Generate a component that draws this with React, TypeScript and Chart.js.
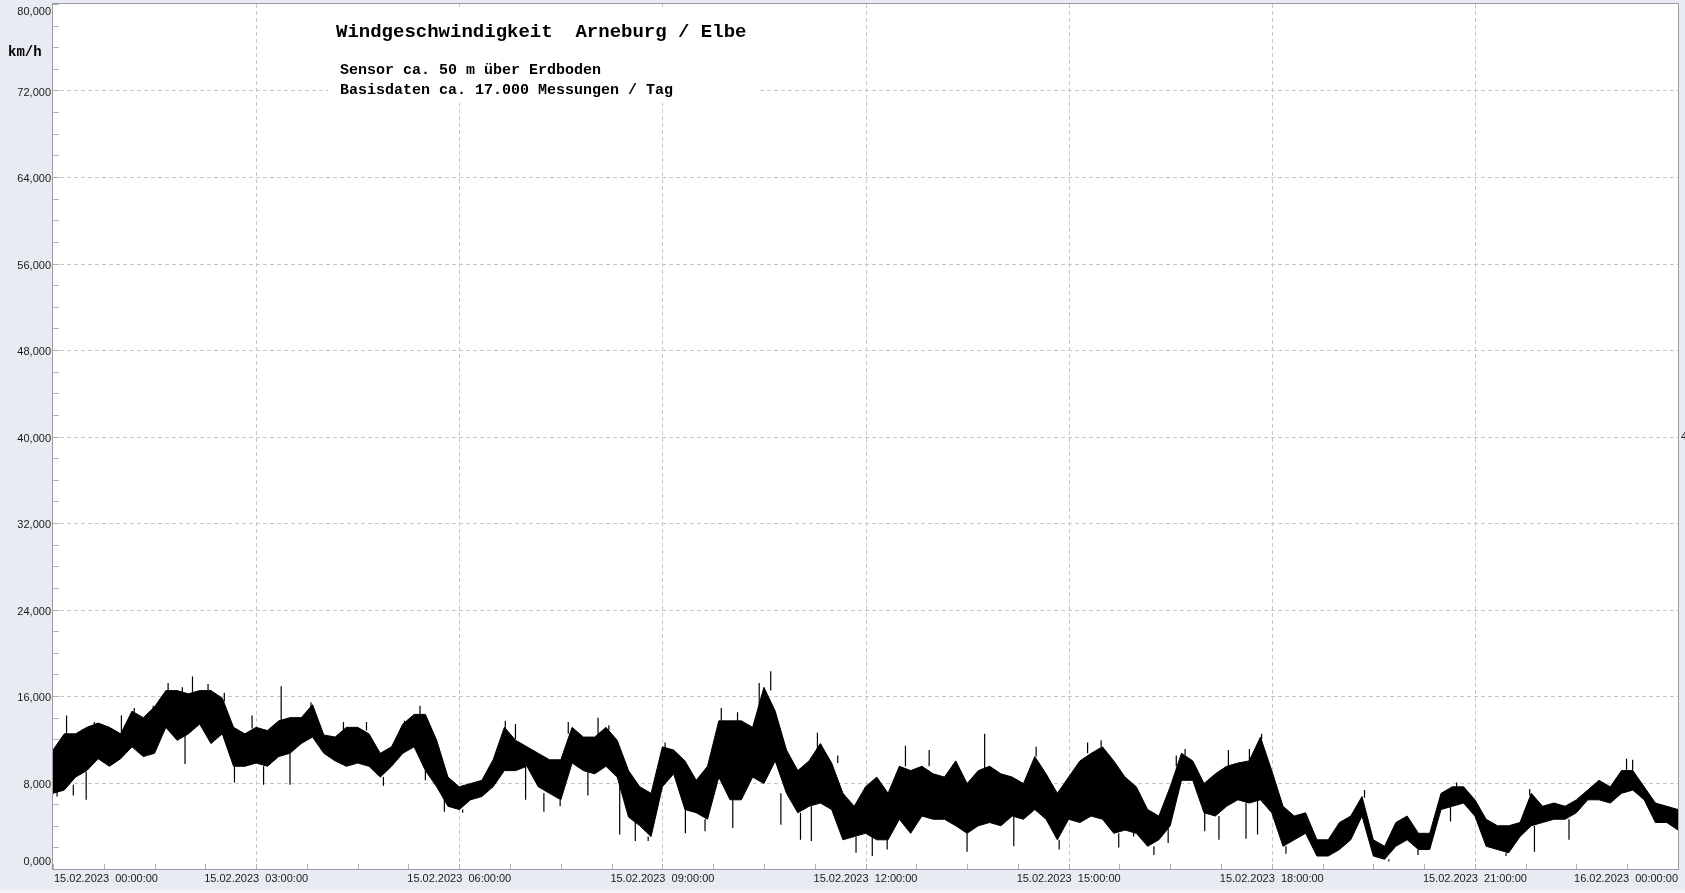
import React, { useEffect, useRef } from "react";
import { Chart, registerables } from "chart.js";

Chart.register(...registerables);

// Sample times, minutes after 15.02.2023 00:00 (10-minute buckets)
const MINUTES = [
  0, 10, 20, 30, 40, 50, 60, 70, 80, 90, 100, 110,
  120, 130, 140, 150, 160, 170, 180, 190, 200, 210, 220, 230,
  240, 250, 260, 270, 280, 290, 300, 310, 320, 330, 340, 350,
  360, 370, 380, 390, 400, 410, 420, 430, 440, 450, 460, 470,
  480, 490, 500, 510, 520, 530, 540, 550, 560, 570, 580, 590,
  600, 610, 620, 630, 640, 650, 660, 670, 680, 690, 700, 710,
  720, 730, 740, 750, 760, 770, 780, 790, 800, 810, 820, 830,
  840, 850, 860, 870, 880, 890, 900, 910, 920, 930, 940, 950,
  960, 970, 980, 990, 1000, 1010, 1020, 1030, 1040, 1050, 1060, 1070,
  1080, 1090, 1100, 1110, 1120, 1130, 1140, 1150, 1160, 1170, 1180, 1190,
  1200, 1210, 1220, 1230, 1240, 1250, 1260, 1270, 1280, 1290, 1300, 1310,
  1320, 1330, 1340, 1350, 1360, 1370, 1380, 1390, 1400, 1410, 1420, 1430,
  1440,
];

// Upper edge of the dense measurement band (km/h)
const BAND_HIGH = [
  11.0, 12.5, 12.5, 13.1, 13.5, 13.1, 12.5, 14.6, 14.0, 15.0, 16.5, 16.5,
  16.2, 16.5, 16.5, 15.8, 13.1, 12.5, 13.1, 12.8, 13.7, 14.0, 14.0, 15.2,
  12.4, 12.2, 13.1, 13.1, 12.5, 10.7, 11.3, 13.4, 14.3, 14.3, 11.9, 8.5,
  7.6, 7.9, 8.2, 10.1, 13.1, 11.9, 11.3, 10.7, 10.1, 10.1, 13.1, 12.2,
  12.2, 13.1, 11.9, 9.1, 7.6, 7.0, 11.3, 11.0, 10.0, 8.2, 9.5, 13.7,
  13.7, 13.7, 13.1, 16.8, 14.6, 11.0, 9.1, 10.0, 11.6, 9.8, 7.0, 5.8,
  7.6, 8.5, 7.0, 9.5, 9.1, 9.5, 8.8, 8.5, 10.0, 7.9, 9.1, 9.5,
  8.8, 8.5, 7.9, 10.4, 8.8, 7.0, 8.5, 10.0, 10.7, 11.3, 10.0, 8.5,
  7.6, 5.5, 4.9, 7.6, 10.7, 10.0, 7.9, 8.8, 9.5, 9.8, 10.0, 12.2,
  9.1, 5.8, 4.9, 5.2, 2.7, 2.7, 4.3, 4.9, 6.7, 2.7, 2.1, 4.3,
  4.9, 3.3, 3.3, 7.0, 7.6, 7.6, 6.4, 4.6, 4.0, 4.0, 4.3, 7.0,
  5.8, 6.1, 5.8, 6.4, 7.3, 8.2, 7.6, 9.1, 9.1, 7.6, 6.1, 5.8,
  5.5,
];

// Lower edge of the dense measurement band (km/h)
const BAND_LOW = [
  7.0, 7.3, 8.5, 9.1, 10.2, 9.5, 10.2, 11.3, 10.4, 10.7, 13.1, 11.9,
  12.5, 13.4, 11.6, 12.5, 9.5, 9.5, 9.8, 9.5, 10.4, 10.7, 11.6, 12.2,
  10.7, 10.0, 9.5, 9.8, 9.5, 8.5, 9.5, 10.7, 11.3, 9.1, 7.6, 5.8,
  5.5, 6.4, 6.7, 7.6, 9.1, 9.1, 9.5, 7.6, 7.0, 6.4, 9.8, 9.1,
  8.8, 9.5, 8.5, 4.8, 4.0, 3.0, 7.6, 8.8, 5.5, 5.2, 4.6, 8.5,
  6.4, 6.4, 8.5, 7.9, 10.0, 7.0, 5.2, 5.8, 6.1, 5.5, 2.7, 3.0,
  3.3, 2.7, 2.7, 4.6, 3.3, 4.9, 4.6, 4.6, 4.0, 3.3, 4.0, 4.3,
  4.0, 4.9, 4.6, 5.5, 4.6, 2.7, 4.6, 4.3, 4.9, 4.6, 3.3, 3.6,
  3.3, 2.1, 2.7, 4.0, 8.2, 8.2, 5.2, 4.9, 5.8, 6.4, 6.1, 6.4,
  5.2, 2.1, 2.7, 3.3, 1.2, 1.2, 1.8, 2.7, 4.9, 1.2, 0.9, 2.1,
  2.7, 1.8, 1.8, 5.5, 5.8, 6.1, 4.9, 2.1, 1.8, 1.5, 3.0, 4.0,
  4.3, 4.6, 4.6, 5.2, 6.4, 6.4, 6.1, 7.0, 7.3, 6.4, 4.3, 4.3,
  3.6,
];

// Individual gust / lull spikes: time (h), spike start (km/h), spike tip (km/h)
const SPIKE_HOURS = [
  0.20, 0.43, 0.61, 1.01, 1.20, 1.48, 1.70, 1.91, 2.06, 2.29, 2.53, 2.94, 3.37, 3.55, 3.81, 4.29,
  4.63, 5.19, 5.42, 6.68, 6.83, 7.61, 8.05, 8.21, 9.04, 9.87, 10.11, 10.43, 10.60, 11.29, 11.59, 12.59,
  12.94, 13.76, 14.52, 15.28, 15.48, 16.59, 16.72, 17.36, 17.67, 17.85, 19.37, 20.73, 21.81, 23.24, 23.33,
  0.06, 0.30, 0.49, 1.95, 2.68, 3.11, 3.50, 4.88, 5.50, 5.78, 6.05, 6.98, 7.25, 7.49, 7.90, 8.37,
  8.60, 8.79, 9.34, 9.63, 10.04, 10.75, 11.04, 11.20, 11.86, 12.10, 12.32, 13.50, 14.19, 14.86, 15.74, 15.96,
  16.26, 16.47, 17.01, 17.22, 17.62, 17.79, 18.21, 19.73, 20.16, 20.64, 21.46, 21.88, 22.39,
];
const SPIKE_BASE = [
  12.3, 12.0, 12.8, 12.5, 14.0, 14.5, 16.0, 16.0, 16.2, 16.3, 15.5, 13.0, 13.7, 13.5, 14.5, 12.8,
  12.8, 13.0, 14.2, 13.0, 12.0, 12.5, 12.2, 12.8, 11.2, 13.7, 13.7, 14.0, 16.5, 11.0, 9.8, 9.5,
  9.5, 9.3, 10.4, 10.7, 11.3, 9.5, 10.5, 9.6, 10.0, 12.0, 6.6, 7.6, 6.8, 9.1, 9.1,
  7.5, 7.8, 9.0, 12.5, 9.5, 9.5, 10.7, 8.5, 9.1, 7.0, 5.5, 9.5, 7.0, 6.4, 9.0, 8.5,
  4.5, 3.0, 5.5, 4.6, 6.4, 7.0, 5.2, 5.8, 3.0, 3.0, 2.7, 3.3, 4.9, 2.7, 3.3, 3.5,
  2.1, 4.0, 5.2, 4.9, 6.1, 6.3, 2.1, 0.9, 1.8, 5.8, 1.5, 4.0, 4.6,
];
const SPIKE_TIP = [
  14.2, 12.9, 13.6, 14.2, 14.9, 15.1, 17.2, 16.8, 17.8, 17.1, 16.3, 14.2, 16.9, 14.0, 15.4, 13.6,
  13.6, 13.7, 15.1, 13.7, 13.4, 13.6, 14.0, 13.3, 11.7, 14.9, 14.5, 17.2, 18.3, 12.6, 10.5, 11.4,
  11.0, 12.5, 11.3, 11.7, 11.9, 10.5, 11.1, 11.0, 11.1, 12.5, 7.3, 8.0, 7.4, 10.2, 10.1,
  6.7, 6.8, 6.4, 9.7, 8.0, 7.8, 7.8, 7.7, 8.2, 5.3, 5.2, 6.4, 5.3, 5.8, 6.8, 3.2,
  2.6, 2.6, 3.3, 3.5, 3.8, 4.1, 2.7, 2.6, 1.5, 1.2, 1.8, 1.6, 2.1, 1.8, 2.0, 3.0,
  1.3, 2.4, 3.5, 2.7, 2.8, 3.2, 1.4, 0.7, 1.3, 4.4, 1.2, 1.6, 2.7,
];

const Y_TICKS = [0, 8, 16, 24, 32, 40, 48, 56, 64, 72, 80];
const X_TICKS = [0, 3, 6, 9, 12, 15, 18, 21, 24];
const X_TICK_LABELS = [
  "15.02.2023  00:00:00",
  "15.02.2023  03:00:00",
  "15.02.2023  06:00:00",
  "15.02.2023  09:00:00",
  "15.02.2023  12:00:00",
  "15.02.2023  15:00:00",
  "15.02.2023  18:00:00",
  "15.02.2023  21:00:00",
  "16.02.2023  00:00:00",
];
const TITLE = "Windgeschwindigkeit  Arneburg / Elbe";
const SUB1 = "Sensor ca. 50 m über Erdboden";
const SUB2 = "Basisdaten ca. 17.000 Messungen / Tag";
const UNIT = "km/h";

const decorPlugin = {
  id: "decor",
  beforeDraw(chart: any) {
    const { ctx, chartArea: a, width, height } = chart;
    const xs = chart.scales.x;
    const ys = chart.scales.y;
    ctx.save();
    ctx.fillStyle = "#e8ebf1";
    ctx.fillRect(0, 0, width, height);
    ctx.fillStyle = "#f0f2f5";
    ctx.fillRect(0, height - 4, width, 4);
    ctx.fillStyle = "#ffffff";
    ctx.fillRect(a.left, a.top, a.right - a.left, a.bottom - a.top);

    ctx.strokeStyle = "#c6c6c6";
    ctx.lineWidth = 1;
    ctx.setLineDash([4, 3]);
    for (const v of Y_TICKS) {
      if (v === 0 || v === 80) continue;
      const y = Math.round(ys.getPixelForValue(v)) + 0.5;
      ctx.beginPath();
      ctx.moveTo(a.left, y);
      ctx.lineTo(a.right, y);
      ctx.stroke();
    }
    for (const h of X_TICKS) {
      if (h === 0 || h === 24) continue;
      const x = Math.round(xs.getPixelForValue(h)) + 0.5;
      ctx.beginPath();
      ctx.moveTo(x, a.top);
      ctx.lineTo(x, a.bottom);
      ctx.stroke();
    }
    ctx.setLineDash([]);

    ctx.strokeStyle = "#b0b0b0";
    for (let v = 0; v <= 80; v += 2) {
      const y = Math.round(ys.getPixelForValue(v)) + 0.5;
      ctx.beginPath();
      ctx.moveTo(a.left, y);
      ctx.lineTo(a.left + 6, y);
      ctx.stroke();
    }
    for (let h = 0; h <= 24; h += 0.75) {
      const x = Math.round(xs.getPixelForValue(h)) + 0.5;
      ctx.beginPath();
      ctx.moveTo(x, a.bottom - 5);
      ctx.lineTo(x, a.bottom);
      ctx.stroke();
    }

    ctx.fillStyle = "#ffffff";
    ctx.fillRect(328, 7, 432, 96);

    ctx.fillStyle = "#000";
    ctx.textAlign = "left";
    ctx.textBaseline = "alphabetic";
    ctx.font = "bold 19px 'Liberation Mono', 'DejaVu Sans Mono', monospace";
    ctx.fillText(TITLE, 336, 37);
    ctx.font = "bold 15px 'Liberation Mono', 'DejaVu Sans Mono', monospace";
    ctx.fillText(SUB1, 340, 74);
    ctx.fillText(SUB2, 340, 94);
    ctx.restore();
  },
  afterDraw(chart: any) {
    const { ctx, chartArea: a } = chart;
    const xs = chart.scales.x;
    const ys = chart.scales.y;
    ctx.save();
    ctx.strokeStyle = "#9a9ea4";
    ctx.lineWidth = 1;
    ctx.strokeRect(a.left - 0.5, a.top - 0.5, a.right - a.left + 1, a.bottom - a.top + 1);

    ctx.fillStyle = "#1a1a1a";
    ctx.font = "11px 'Liberation Sans', Arial, sans-serif";
    ctx.textAlign = "right";
    ctx.textBaseline = "middle";
    for (const v of Y_TICKS) {
      let y = ys.getPixelForValue(v) + 2;
      if (v === 80) y = a.top + 8;
      if (v === 0) y = a.bottom - 7;
      ctx.fillText(v.toFixed(3).replace(".", ","), 51, y);
    }
    ctx.textAlign = "left";
    ctx.fillText("4", a.right + 3, ys.getPixelForValue(40));

    X_TICKS.forEach((h, i) => {
      const x = xs.getPixelForValue(h);
      if (i === 0) {
        ctx.textAlign = "left";
        ctx.fillText(X_TICK_LABELS[i], x + 1, a.bottom + 10);
      } else if (i === X_TICKS.length - 1) {
        ctx.textAlign = "right";
        ctx.fillText(X_TICK_LABELS[i], x, a.bottom + 10);
      } else {
        ctx.textAlign = "center";
        ctx.fillText(X_TICK_LABELS[i], x, a.bottom + 10);
      }
    });

    ctx.fillStyle = "#000";
    ctx.textAlign = "left";
    ctx.textBaseline = "alphabetic";
    ctx.font = "bold 14px 'Liberation Mono', 'DejaVu Sans Mono', monospace";
    ctx.fillText(UNIT, 8, 56);
    ctx.restore();
  },
};

export default function App() {
  const ref = useRef<HTMLCanvasElement | null>(null);
  useEffect(() => {
    if (!ref.current) return;
    const high = MINUTES.map((m, i) => ({ x: m / 60, y: BAND_HIGH[i] }));
    const low = MINUTES.map((m, i) => ({ x: m / 60, y: BAND_LOW[i] }));
    const spikes: any[] = [];
    SPIKE_HOURS.forEach((h, i) => {
      spikes.push({ x: h, y: SPIKE_BASE[i] });
      spikes.push({ x: h, y: SPIKE_TIP[i] });
      spikes.push({ x: h, y: null });
    });
    const chart = new Chart(ref.current, {
      type: "line",
      data: {
        datasets: [
          {
            label: "max",
            data: high,
            borderColor: "#000",
            backgroundColor: "#000",
            borderWidth: 1,
            pointRadius: 0,
            fill: "+1",
            tension: 0,
          },
          {
            label: "min",
            data: low,
            borderColor: "#000",
            backgroundColor: "#000",
            borderWidth: 1,
            pointRadius: 0,
            fill: false,
            tension: 0,
          },
          {
            label: "spikes",
            data: spikes,
            borderColor: "#000",
            borderWidth: 1.2,
            pointRadius: 0,
            fill: false,
            spanGaps: false,
            tension: 0,
          },
        ],
      },
      options: {
        responsive: false,
        animation: false,
        parsing: true,
        layout: { padding: { left: 53, top: 4, right: 7, bottom: 24 } },
        plugins: { legend: { display: false }, tooltip: { enabled: false }, title: { display: false } },
        scales: {
          x: { type: "linear", min: 0, max: 24, display: false },
          y: { type: "linear", min: 0, max: 80, display: false },
        },
      },
      plugins: [decorPlugin],
    });
    return () => chart.destroy();
  }, []);
  return (
    <div style={{ position: "fixed", left: 0, top: 0, width: 1685, height: 893 }}>
      <canvas ref={ref} width={1685} height={893} />
    </div>
  );
}
